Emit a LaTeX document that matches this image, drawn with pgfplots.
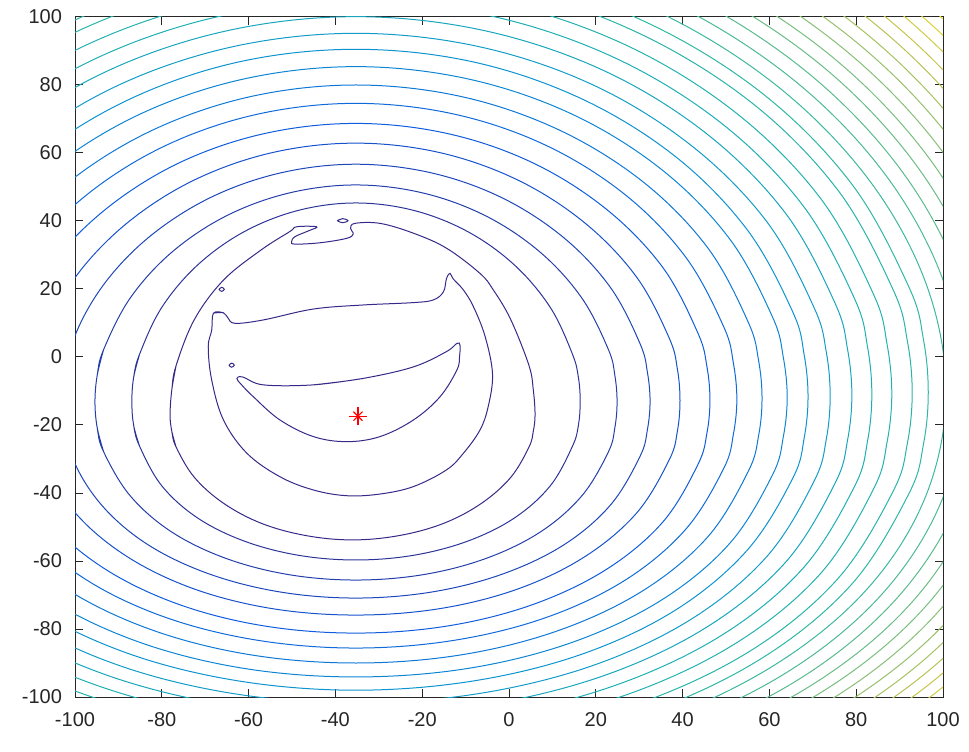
\documentclass[border=0pt]{standalone}
\usepackage{fontspec}
\setmainfont{Liberation Sans}
\usepackage{pgfplots}
\pgfplotsset{compat=1.18}

% level colours (parula-like ramp, dark blue at the minimum, yellow at the top)
\definecolor{A1}{RGB}{53,42,135}
\definecolor{A4}{RGB}{45,52,152}
\definecolor{A8}{RGB}{15,92,221}
\definecolor{A12}{RGB}{13,147,208}
\definecolor{A15}{RGB}{30,175,180}
\definecolor{A18}{RGB}{46,183,164}
\definecolor{A24}{RGB}{135,191,119}
\definecolor{A28}{RGB}{200,195,75}
\definecolor{A31}{RGB}{228,218,45}
\definecolor{axgray}{RGB}{38,38,38}

\pgfplotsset{ring/.style={smooth, tension=0.6, mark=none, line width=0.5pt}}

\begin{document}
\begin{tikzpicture}
\begin{axis}[
  scale only axis, width=434pt, height=340pt,
  xmin=-100, xmax=100, ymin=-100, ymax=100,
  xtick={-100,-80,...,100}, ytick={-100,-80,...,100},
  tick align=inside, major tick length=4pt,
  axis line style={color=axgray, line width=0.5pt},
  tick style={color=axgray, line width=0.5pt},
  ticklabel style={font=\fontsize{10}{12}\selectfont, color=axgray},
  xticklabel style={yshift=-4pt},
  yticklabel style={xshift=-3pt},
  /pgf/number format/assume math mode=true,
]

% closed curves repeat their first points at the end so that the
% smooth path has no corner where it starts

% level 1 (crescent around the minimum)
\addplot[ring, color=A1] coordinates {
(-45.1,-8.2) (-33.6,-6.3) (-22.0,-2.9) (-14.4,1.6) (-12.0,4.0) (-11.3,3.5)
(-11.4,0.1) (-12.0,-3.8) (-15.9,-11.7) (-22.0,-18.5) (-29.7,-23.4) (-37.4,-24.9)
(-45.1,-23.4) (-52.8,-18.5) (-58.9,-11.7) (-61.6,-8.2) (-62.7,-6.3) (-61.3,-5.9)
(-56.6,-8.2) (-45.1,-8.2) (-33.6,-6.3)};

% level 2
\addplot[ring, color=A1] coordinates {
(-68.1,12.9) (-65.8,13.0) (-64.7,11.4) (-63.1,9.9) (-56.6,10.9) (-45.1,14.1)
(-33.6,15.3) (-22.0,16.0) (-17.4,16.8) (-15.1,19.2) (-14.4,23.1) (-13.6,24.6)
(-12.8,22.9) (-10.5,19.7) (-8.2,14.8) (-5.5,6.0) (-3.8,-5.0) (-4.8,-14.6)
(-6.7,-21.5) (-10.5,-28.3) (-14.4,-33.2) (-22.0,-38.1) (-29.7,-40.3)
(-37.4,-40.8) (-45.1,-39.1) (-52.8,-35.2) (-60.4,-28.3) (-65.8,-18.5)
(-68.5,-6.8) (-69.3,3.0) (-68.5,7.9) (-68.1,12.9) (-65.8,13.0)};
\addplot[ring, color=A1] coordinates {
(-64.5,-2.4) (-63.9,-1.8) (-63.3,-2.4) (-63.9,-3.0) (-64.5,-2.4) (-63.9,-1.8)};
\addplot[ring, color=A1] coordinates {
(-66.8,19.9) (-66.2,20.5) (-65.6,19.9) (-66.2,19.3) (-66.8,19.9) (-66.2,20.5)};

% level 3
\addplot[ring, color=A1] coordinates {
(-76.7,-26.5) (-77.7,-21.8) (-78.1,-17) (-77.7,-9.7) (-76.7,-2.5) (-72.5,11.0)
(-65.8,22.6) (-57.1,31.5) (-50.5,36.9)
(-48.9,38.3) (-44.3,38.3) (-46.2,37.1) (-49.3,35.4) (-50.1,33.9) (-49.3,33.2)
(-43.5,33.6) (-37.4,34.9) (-35.9,36.2) (-36.5,37.8) (-35.5,39.3) (-29.7,39.3)
(-22.0,36.4) (-14.4,32.0) (-6.7,24.6) (-3.6,19.7) (0.4,11.0) (4.6,-2.5)
(5.6,-9.7) (6.0,-17) (5.6,-21.8) (4.6,-26.5) (0.4,-35.4) (-6.3,-43.0)
(-15.0,-48.9) (-25.2,-52.5) (-36.1,-53.8) (-46.9,-52.5) (-57.1,-48.9)
(-65.8,-43.0) (-72.5,-35.4) (-76.7,-26.5) (-77.7,-21.8) (-78.1,-17)
(-77.7,-9.7) (-76.7,-2.5)};
\addplot[ring, color=A1] coordinates {
(-39.5,40.1) (-38.3,40.7) (-37.1,40.1) (-38.3,39.5) (-39.5,40.1) (-38.3,40.7)};

% levels 4 to 18
\addplot[ring, color=A4] coordinates {
(-85.1,0.9) (-86.5,-6.1) (-86.9,-13.1) (-86.5,-20.0) (-85.1,-26.3) (-80.0,-37.9)
(-71.8,-47.3) (-61.1,-54.1) (-48.6,-58.3) (-35.3,-59.7) (-21.9,-58.3) (-9.4,-54.1)
(1.3,-47.3) (9.5,-37.9) (14.6,-26.3) (16.0,-20.0) (16.4,-13.1) (16.0,-6.1)
(14.6,0.9) (9.5,14.6) (1.3,27.0) (-9.4,36.8) (-21.9,43.1) (-35.3,45.3)
(-48.6,43.1) (-61.1,36.8) (-71.8,27.0) (-80.0,14.6) (-85.1,0.9) (-86.5,-6.1)
(-86.9,-13.1) (-86.5,-20.0) (-85.1,-26.3)};
\addplot[ring, color=A8!25!A4] coordinates {
(-93.4,2.2) (-94.9,-5.5) (-95.4,-13.2) (-94.9,-20.7) (-93.4,-27.9) (-87.3,-40.8)
(-77.8,-51.4) (-65.3,-59.2) (-50.8,-64.0) (-35.3,-65.6) (-19.7,-64.0) (-5.2,-59.2)
(7.3,-51.4) (16.8,-40.8) (22.9,-27.9) (24.4,-20.7) (24.9,-13.2) (24.4,-5.5)
(22.9,2.2) (16.8,17.3) (7.3,30.7) (-5.2,41.4) (-19.7,48.2) (-35.3,50.6)
(-50.8,48.2) (-65.3,41.4) (-77.8,30.7) (-87.3,17.3) (-93.4,2.2) (-94.9,-5.5)
(-95.4,-13.2) (-94.9,-20.7) (-93.4,-27.9)};
\addplot[ring, color=A8!50!A4] coordinates {
(-103.0,-13.0) (-100.7,-29.2) (-93.9,-43.5) (-83.2,-55.2) (-69.1,-63.8) (-52.8,-69.1)
(-35.3,-70.9) (-17.7,-69.1) (-1.4,-63.8) (12.7,-55.2) (23.4,-43.5) (30.2,-29.2)
(31.9,-21.3) (32.5,-13.0) (31.9,-4.6)
(30.2,3.9) (23.4,20.4) (12.7,35.0) (-1.4,46.7) (-17.7,54.1)
(-35.3,56.7) (-52.8,54.1) (-69.1,46.7) (-83.2,35.0) (-93.9,20.4) (-100.7,3.9)
(-103.0,-13.0)};
\addplot[ring, color=A8!75!A4] coordinates {
(-109.9,-12.8) (-107.4,-30.3) (-99.9,-45.9) (-88.0,-58.7) (-72.6,-68.2) (-54.6,-74.0)
(-35.3,-75.9) (-15.9,-74.0) (2.1,-68.2) (17.5,-58.7) (29.4,-45.9) (36.9,-30.3)
(38.8,-21.8) (39.4,-12.8) (38.8,-3.6)
(36.9,5.6) (29.4,23.5) (17.5,39.4) (2.1,52.0) (-15.9,60.1)
(-35.3,62.9) (-54.6,60.1) (-72.6,52.0) (-88.0,39.4) (-99.9,23.5) (-107.4,5.6)
(-109.9,-12.8)};
\addplot[ring, color=A8] coordinates {
(-116.8,-12.7) (-114.0,-31.7) (-105.9,-48.6) (-92.9,-62.5) (-76.0,-72.8) (-56.4,-79.1)
(-35.3,-81.2) (-14.1,-79.1) (5.5,-72.8) (22.4,-62.5) (35.4,-48.6) (43.5,-31.7)
(45.6,-22.4) (46.3,-12.7) (45.6,-2.8)
(43.5,7.1) (35.4,26.4) (22.4,43.5) (5.5,57.1) (-14.1,65.7)
(-35.3,68.7) (-56.4,65.7) (-76.0,57.1) (-92.9,43.5) (-105.9,26.4) (-114.0,7.1)
(-116.8,-12.7)};
\addplot[ring, color=A12!25!A8] coordinates {
(-123.0,-12.4) (-120.0,-32.7) (-111.2,-50.7) (-97.3,-65.6) (-79.1,-76.6) (-58.0,-83.3)
(-35.3,-85.6) (-12.5,-83.3) (8.6,-76.6) (26.8,-65.6) (40.7,-50.7) (49.5,-32.7)
(51.7,-22.7) (52.5,-12.4) (51.7,-1.8)
(49.5,8.8) (40.7,29.4) (26.8,47.7) (8.6,62.2) (-12.5,71.4)
(-35.3,74.6) (-58.0,71.4) (-79.1,62.2) (-97.3,47.7) (-111.2,29.4) (-120.0,8.8)
(-123.0,-12.4)};
\addplot[ring, color=A12!50!A8] coordinates {
(-128.8,-12.2) (-125.6,-33.7) (-116.3,-52.9) (-101.4,-68.7) (-82.0,-80.4) (-59.5,-87.6)
(-35.3,-90.0) (-11.0,-87.6) (11.5,-80.4) (30.9,-68.7) (45.8,-52.9) (55.1,-33.7)
(57.5,-23.2) (58.3,-12.2) (57.5,-1.0)
(55.1,10.3) (45.8,32.1) (30.9,51.5) (11.5,66.8) (-11.0,76.6)
(-35.3,80.0) (-59.5,76.6) (-82.0,66.8) (-101.4,51.5) (-116.3,32.1) (-125.6,10.3)
(-128.8,-12.2)};
\addplot[ring, color=A12!75!A8] coordinates {
(-134.6,-11.9) (-131.2,-34.7) (-121.3,-54.9) (-105.5,-71.6) (-84.9,-84.0) (-61.0,-91.6)
(-35.3,-94.1) (-9.5,-91.6) (14.4,-84.0) (35.0,-71.6) (50.8,-54.9) (60.7,-34.7)
(63.2,-23.5) (64.1,-11.9) (63.2,-0.1)
(60.7,11.8) (50.8,34.8) (35.0,55.3) (14.4,71.5) (-9.5,81.8)
(-35.3,85.4) (-61.0,81.8) (-84.9,71.5) (-105.5,55.3) (-121.3,34.8) (-131.2,11.8)
(-134.6,-11.9)};
\addplot[ring, color=A12] coordinates {
(-139.4,-11.7) (-135.9,-35.6) (-125.4,-56.8) (-108.9,-74.4) (-87.3,-87.4) (-62.2,-95.3)
(-35.3,-98.0) (-8.3,-95.3) (16.8,-87.4) (38.4,-74.4) (54.9,-56.8) (65.4,-35.6)
(68.0,-23.9) (68.9,-11.7) (68.0,0.7)
(65.4,13.2) (54.9,37.4) (38.4,58.9) (16.8,75.9) (-8.3,86.8)
(-35.3,90.5) (-62.2,86.8) (-87.3,75.9) (-108.9,58.9) (-125.4,37.4) (-135.9,13.2)
(-139.4,-11.7)};
\addplot[ring, color=A15!33!A12] coordinates {
(-144.5,-11.5) (-140.8,-36.5) (-129.9,-58.7) (-112.5,-77.1) (-89.9,-90.7) (-63.5,-99.0)
(-35.3,-101.8) (-7.0,-99.0) (19.4,-90.7) (42.0,-77.1) (59.4,-58.7) (70.3,-36.5)
(73.1,-24.2) (74.0,-11.5) (73.1,1.5)
(70.3,14.5) (59.4,39.8) (42.0,62.2) (19.4,80.0) (-7.0,91.3)
(-35.3,95.2) (-63.5,91.3) (-89.9,80.0) (-112.5,62.2) (-129.9,39.8) (-140.8,14.5)
(-144.5,-11.5)};
\addplot[ring, color=A15!67!A12] coordinates {
(-149.5,-11.2) (-145.6,-37.2) (-134.2,-60.4) (-116.0,-79.5) (-92.4,-93.7) (-64.8,-102.4)
(-35.3,-105.3) (-5.7,-102.4) (21.9,-93.7) (45.5,-79.5) (63.7,-60.4) (75.1,-37.2)
(78.0,-24.5) (79.0,-11.2) (78.0,2.3)
(75.1,15.9) (63.7,42.3) (45.5,65.7) (21.9,84.2) (-5.7,96.0)
(-35.3,100.1) (-64.8,96.0) (-92.4,84.2) (-116.0,65.7) (-134.2,42.3) (-145.6,15.9)
(-149.5,-11.2)};
\addplot[ring, color=A15] coordinates {
(-154.1,-11.0) (-150.1,-38.1) (-138.2,-62.2) (-119.3,-82.0) (-94.7,-96.7) (-66.0,-105.8)
(-35.3,-108.8) (-4.5,-105.8) (24.2,-96.7) (48.8,-82.0) (67.7,-62.2) (79.6,-38.1)
(82.6,-24.8) (83.6,-11.0) (82.6,3.0)
(79.6,17.2) (67.7,44.6) (48.8,68.9) (24.2,88.1) (-4.5,100.4)
(-35.3,104.6) (-66.0,100.4) (-94.7,88.1) (-119.3,68.9) (-138.2,44.6) (-150.1,17.2)
(-154.1,-11.0)};
\addplot[ring, color=A18!33!A15] coordinates {
(-158.7,-10.8) (-154.5,-38.8) (-142.2,-63.8) (-122.5,-84.4) (-97.0,-99.6) (-67.2,-109.0)
(-35.3,-112.1) (-3.3,-109.0) (26.5,-99.6) (52.0,-84.4) (71.7,-63.8) (84.0,-38.8)
(87.1,-25.1) (88.2,-10.8) (87.1,3.8)
(84.0,18.4) (71.7,46.8) (52.0,72.1) (26.5,92.0) (-3.3,104.7)
(-35.3,109.1) (-67.2,104.7) (-97.0,92.0) (-122.5,72.1) (-142.2,46.8) (-154.5,18.4)
(-158.7,-10.8)};
\addplot[ring, color=A18!67!A15] coordinates {
(-163.4,-10.5) (-159.0,-39.5) (-146.2,-65.3) (-125.9,-86.6) (-99.3,-102.4) (-68.4,-112.1)
(-35.3,-115.3) (-2.1,-112.1) (28.8,-102.4) (55.4,-86.6) (75.7,-65.3) (88.5,-39.5)
(91.8,-25.3) (92.9,-10.5) (91.8,4.6)
(88.5,19.8) (75.7,49.2) (55.4,75.3) (28.8,95.9) (-2.1,109.2)
(-35.3,113.7) (-68.4,109.2) (-99.3,95.9) (-125.9,75.3) (-146.2,49.2) (-159.0,19.8)
(-163.4,-10.5)};
\addplot[ring, color=A18] coordinates {
(-167.1,-10.4) (-162.6,-40.3) (-149.4,-66.9) (-128.5,-88.8) (-100.2,-105.1) (-69.4,-115.0)
(-35.3,-118.4) (-1.1,-115.0) (30.7,-105.1) (58.0,-88.8) (78.9,-66.9) (92.1,-40.3)
(95.5,-25.6) (96.6,-10.4) (95.5,5.1)
(92.1,20.7) (78.9,51.0) (58.0,77.9) (30.7,99.0) (-1.1,112.6)
(-35.3,117.3) (-69.4,112.6) (-100.2,99.0) (-128.5,77.9) (-149.4,51.0) (-162.6,20.7)
(-167.1,-10.4)};

% levels 19 to 31: only the right-hand arcs reach the window
\addplot[ring, color=A24!17!A18] coordinates {
(-0.1,-117.9) (32.7,-107.7) (60.8,-90.9) (82.4,-68.4) (96.0,-41.0) (100.7,-10.2)
(96.0,21.9) (82.4,53.0) (60.8,80.7) (32.7,102.5) (-0.1,116.5)};
\addplot[ring, color=A24!33!A18] coordinates {
(1.0,-120.8) (34.7,-110.2) (63.7,-93.0) (85.9,-69.8) (99.9,-41.6) (104.7,-10.0)
(99.9,23.0) (85.9,55.0) (63.7,83.4) (34.7,105.9) (1.0,120.3)};
\addplot[ring, color=A24!50!A18] coordinates {
(1.9,-123.6) (36.6,-112.7) (66.4,-95.1) (89.2,-71.2) (103.6,-42.3) (108.5,-9.8)
(103.6,24.0) (89.2,56.9) (66.4,86.1) (36.6,109.2) (1.9,123.9)};
\addplot[ring, color=A24!67!A18] coordinates {
(2.9,-126.3) (38.5,-115.2) (69.1,-97.0) (92.5,-72.6) (107.2,-42.9) (112.3,-9.7)
(107.2,25.0) (92.5,58.7) (69.1,88.7) (38.5,112.3) (2.9,127.4)};
\addplot[ring, color=A24!83!A18] coordinates {
(3.9,-128.9) (40.3,-117.5) (71.6,-98.9) (95.6,-73.9) (110.7,-43.6) (115.9,-9.5)
(110.7,26.1) (95.6,60.5) (71.6,91.2) (40.3,115.4) (3.9,130.9)};
\addplot[ring, color=A24] coordinates {
(4.8,-131.4) (42.1,-119.8) (74.1,-100.8) (98.7,-75.2) (114.2,-44.1) (119.5,-9.3)
(114.2,27.1) (98.7,62.4) (74.1,93.7) (42.1,118.5) (4.8,134.3)};
\addplot[ring, color=A28!25!A24] coordinates {
(5.7,-133.9) (43.9,-122.0) (76.6,-102.6) (101.8,-76.5) (117.6,-44.7) (123.0,-9.1)
(117.6,28.0) (101.8,64.1) (76.6,96.1) (43.9,121.4) (5.7,137.6)};
\addplot[ring, color=A28!50!A24] coordinates {
(6.6,-136.4) (45.6,-124.3) (79.0,-104.5) (104.7,-77.8) (120.8,-45.3) (126.4,-9.0)
(120.8,29.0) (104.7,65.8) (79.0,98.5) (45.6,124.4) (6.6,140.9)};
\addplot[ring, color=A28!75!A24] coordinates {
(7.4,-138.8) (47.2,-126.5) (81.4,-106.2) (107.6,-79.0) (124.0,-45.9) (129.7,-8.8)
(124.0,29.9) (107.6,67.5) (81.4,100.9) (47.2,127.2) (7.4,144.1)};
\addplot[ring, color=A28] coordinates {
(8.3,-141.2) (48.9,-128.5) (83.7,-107.9) (110.4,-80.2) (127.2,-46.5) (133.0,-8.7)
(127.2,30.8) (110.4,69.1) (83.7,103.1) (48.9,130.0) (8.3,147.2)};
\addplot[ring, color=A31!33!A28] coordinates {
(9.1,-143.5) (50.5,-130.6) (86.0,-109.6) (113.2,-81.3) (130.3,-47.0) (136.2,-8.5)
(130.3,31.7) (113.2,70.7) (86.0,105.4) (50.5,132.7) (9.1,150.3)};
\addplot[ring, color=A31!67!A28] coordinates {
(9.9,-145.7) (52.0,-132.6) (88.1,-111.3) (115.9,-82.5) (133.3,-47.5) (139.3,-8.3)
(133.3,32.6) (115.9,72.3) (88.1,107.6) (52.0,135.4) (9.9,153.3)};
\addplot[ring, color=A31] coordinates {
(10.7,-147.9) (53.6,-134.6) (90.3,-112.9) (118.6,-83.6) (136.3,-48.0) (142.4,-8.2)
(136.3,33.5) (118.6,73.9) (90.3,109.8) (53.6,138.1) (10.7,156.2)};

% location of the minimum
\addplot[only marks, mark=+, mark size=4.5pt, color=red, line width=0.6pt]
  coordinates {(-34.8,-17.4)};
\addplot[only marks, mark=x, mark size=3.2pt, color=red, line width=0.6pt]
  coordinates {(-34.8,-17.4)};
\end{axis}
\path ([shift={(-37.5pt,-27pt)}]current axis.south west)
  rectangle ([shift={(13pt,8.5pt)}]current axis.north east);
\end{tikzpicture}
\end{document}
